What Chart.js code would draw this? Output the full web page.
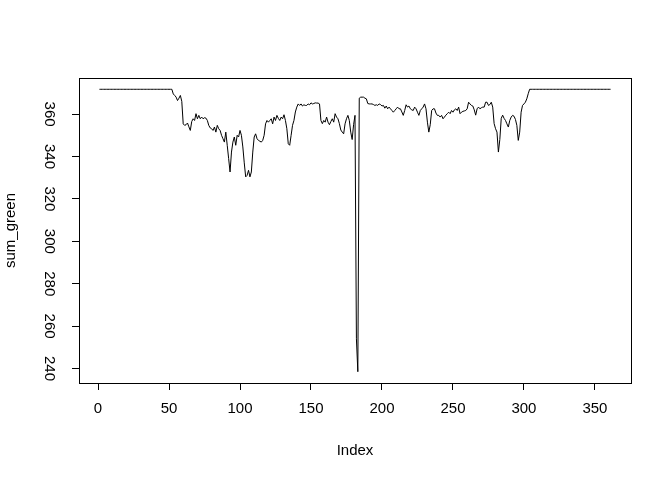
<!DOCTYPE html>
<html>
<head>
<meta charset="utf-8">
<script src="https://cdn.jsdelivr.net/npm/chart.js@4.4.1/dist/chart.umd.min.js"></script>
<style>
body { margin: 0; background: #fff; }
canvas { display: block; }
</style>
</head>
<body>
<canvas id="chart" width="672" height="480"></canvas>
<script>
// sum_green, one value per index (1..361)
const sumGreen = [
    371.7, 371.7, 371.7, 371.7, 371.7, 371.7, 371.7, 371.7, 371.7, 371.7,
    371.7, 371.7, 371.7, 371.7, 371.7, 371.7, 371.7, 371.7, 371.7, 371.7,
    371.7, 371.7, 371.7, 371.7, 371.7, 371.7, 371.7, 371.7, 371.7, 371.7,
    371.7, 371.7, 371.7, 371.7, 371.7, 371.7, 371.7, 371.7, 371.7, 371.7,
    371.7, 371.7, 371.7, 371.7, 371.7, 371.7, 371.7, 371.7, 371.7, 371.7,
    371.7, 371.7, 369.5, 368.8, 368, 366.4, 367.5, 368.8, 366, 355.4,
    354.7, 355, 355.8, 354, 352.3, 356.5, 357.8, 357, 360.2, 357.8,
    359.4, 357.8, 358.6, 357.8, 358.3, 358.1, 357, 354.7, 353.5, 353.1,
    352.3, 353.9, 351.5, 354.7, 353.1, 352.3, 350, 348.4, 346.8, 351.5,
    345.3, 339, 332.7, 342.1, 346.8, 349.2, 345.3, 350, 349.2, 352.3,
    350, 344.5, 337, 330.4, 331.1, 333.5, 330.4, 332.7, 342.1, 349.2,
    350.7, 348.4, 347.6, 347.2, 346.8, 347.6, 350, 355.4, 357, 356.2,
    357, 357.8, 355.4, 358.6, 357, 359.4, 358, 357, 358.6, 357.8,
    359.7, 357, 353.1, 346, 345.3, 350, 354.7, 357, 361, 363.3,
    364.8, 364.1, 364.8, 363.8, 364.4, 364.1, 364.1, 364.8, 364.4, 365.3,
    364.8, 365, 365.3, 365.2, 365.2, 364.8, 357, 355.5, 357, 356.2,
    358.6, 356.2, 355, 356.5, 357.8, 356.2, 360.2, 358.6, 357.8, 355.5,
    352.5, 351.5, 350.7, 355.4, 357.8, 359.4, 357, 351.5, 348, 355,
    359.4, 254, 238.5, 367.5, 368, 368, 368, 367.5, 367.2, 365,
    364.8, 364.8, 364.8, 364.5, 364.1, 364.4, 364.1, 364.8, 364.5, 363.8,
    364.1, 362.8, 363.8, 362.5, 363.3, 362.5, 361.7, 360.9, 361.7, 362.5,
    363.3, 362.5, 362.5, 361, 359.4, 361.7, 364.4, 363.3, 363.8, 362.5,
    362, 361.7, 363.3, 362.5, 360.9, 359.4, 361.7, 362.5, 363.3, 364.8,
    362.5, 356.2, 351.5, 355, 361.7, 362.5, 362.5, 360.5, 359.4, 359.4,
    358.6, 359.4, 357.8, 358.6, 359.5, 360.2, 360.9, 360.2, 361.7, 360.9,
    362, 362.5, 361.7, 363.3, 360.2, 360.9, 361.3, 361.5, 361.7, 362.5,
    365.6, 364.8, 364.1, 363.8, 362, 359.5, 362.5, 363.3, 362.5, 363,
    363.3, 363.3, 365.6, 365.6, 364.1, 364.5, 365.6, 363.3, 355.5, 353.1,
    351.5, 342.1, 348, 358, 359.5, 358, 357, 355.4, 353.9, 357,
    358.6, 359.4, 359, 357.5, 354.7, 347.6, 351.5, 360.9, 364.1, 364.8,
    365.6, 367.2, 369.6, 371.7, 371.7, 371.7, 371.7, 371.7, 371.7, 371.7,
    371.7, 371.7, 371.7, 371.7, 371.7, 371.7, 371.7, 371.7, 371.7, 371.7,
    371.7, 371.7, 371.7, 371.7, 371.7, 371.7, 371.7, 371.7, 371.7, 371.7,
    371.7, 371.7, 371.7, 371.7, 371.7, 371.7, 371.7, 371.7, 371.7, 371.7,
    371.7, 371.7, 371.7, 371.7, 371.7, 371.7, 371.7, 371.7, 371.7, 371.7,
    371.7, 371.7, 371.7, 371.7, 371.7, 371.7, 371.7, 371.7, 371.7, 371.7,
    371.7
];

const xTicks = [0, 50, 100, 150, 200, 250, 300, 350];
const yTicks = [240, 260, 280, 300, 320, 340, 360];
const xTitle = 'Index';
const yTitle = 'sum_green';

const font = { family: 'Liberation Sans, Arial, sans-serif', size: 15 };

// R pads the data range by 4% on each side
const xMin = 1, xMax = sumGreen.length;
const yMin = Math.min(...sumGreen), yMax = Math.max(...sumGreen);
const xPad = (xMax - xMin) * 0.04;
const yPad = (yMax - yMin) * 0.04;

const points = sumGreen.map((v, i) => ({ x: i + 1, y: v }));

// box around the plot region
const boxPlugin = {
    id: 'box',
    afterDraw(chart) {
        const { ctx, chartArea: a } = chart;
        ctx.save();
        ctx.strokeStyle = '#000';
        ctx.lineWidth = 1;
        ctx.strokeRect(Math.round(a.left) + 0.5, Math.round(a.top) + 0.5,
            Math.round(a.right - a.left), Math.round(a.bottom - a.top));
        ctx.restore();
    }
};

const ctx = document.getElementById('chart').getContext('2d');
const chart = new Chart(ctx, {
    type: 'line',
    data: {
        datasets: [{
            data: points,
            borderColor: '#000',
            borderWidth: 1,
            pointRadius: 0,
            tension: 0,
            fill: false
        }]
    },
    options: {
        responsive: false,
        animation: false,
        devicePixelRatio: 1,
        layout: { padding: { top: 78, right: 41, left: 0, bottom: 0 } },
        plugins: { legend: { display: false }, tooltip: { enabled: false } },
        scales: {
            x: {
                type: 'linear',
                min: xMin - xPad,
                max: xMax + xPad,
                afterBuildTicks: (s) => { s.ticks = xTicks.map(v => ({ value: v })); },
                afterFit: (s) => { s.height = 97; },
                border: { display: false },
                grid: { drawOnChartArea: false, drawTicks: true, tickLength: 7, color: '#000' },
                ticks: { color: '#000', font: font, padding: 10, maxRotation: 0, autoSkip: false,
                    callback: (v) => String(v) },
                title: { display: true, text: xTitle, color: '#000', font: font, padding: { top: 0, bottom: 20 } }
            },
            y: {
                min: yMin - yPad,
                max: yMax + yPad,
                afterBuildTicks: (s) => { s.ticks = yTicks.map(v => ({ value: v })); },
                afterFit: (s) => { s.width = 79; },
                border: { display: false },
                grid: { drawOnChartArea: false, drawTicks: true, tickLength: 7, color: '#000' },
                ticks: { color: '#000', font: font, padding: 10, minRotation: -90, maxRotation: -90,
                    crossAlign: 'center', autoSkip: false, callback: (v) => String(v) },
                title: { display: true, text: yTitle, color: '#000', font: font, padding: { top: 2, bottom: 0 } }
            }
        }
    },
    plugins: [boxPlugin]
});
</script>
</body>
</html>
